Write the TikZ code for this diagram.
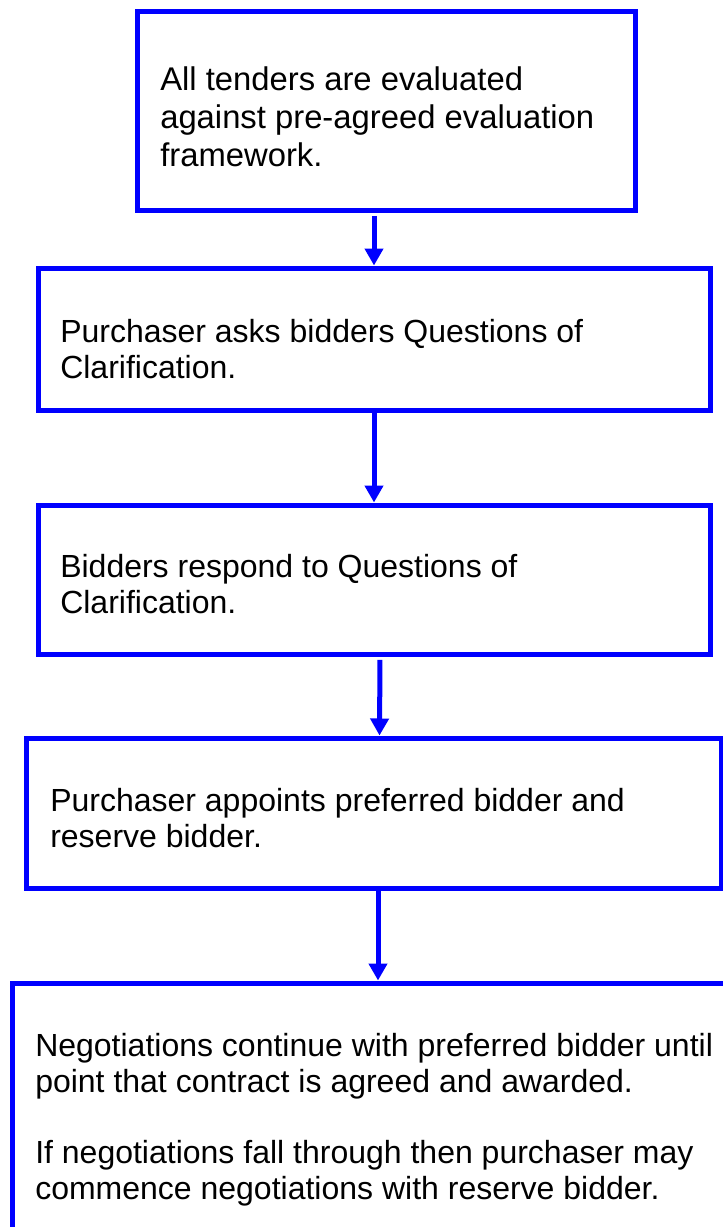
\documentclass[tikz,border=0pt]{standalone}
\usepackage{fontspec}
\setmainfont{Liberation Sans}
\usetikzlibrary{arrows.meta}
\definecolor{flowblue}{RGB}{0,0,255}
\tikzset{
  stage/.style={draw=flowblue, line width=3.75pt, inner sep=0pt},
  stagetext/.style={anchor=north west, inner sep=0pt, align=left,
                    font=\fontsize{24}{27}\selectfont},
  flow/.style={draw=flowblue, line width=3.75pt,
               -{Triangle[width=13.5pt,length=12.75pt]}}
}
\begin{document}
\begin{tikzpicture}[x=0.75pt,y=-0.75pt]
  \clip (0,0) rectangle (723,1227);
  % stage boxes
  \node[stage, minimum width=373.5pt, minimum height=148.5pt] (b1) at (386,111) {};
  \node[stage, minimum width=504pt, minimum height=106.5pt] (b2) at (374,339) {};
  \node[stage, minimum width=504pt, minimum height=111.75pt] (b3) at (374,579.5) {};
  \node[stage, minimum width=521.25pt, minimum height=112.5pt] (b4) at (373.5,813) {};
  \node[stage, minimum width=549pt, minimum height=196.5pt] (b5) at (378,1114) {};
  % texts
  \node[stagetext, font=\fontsize{24.6}{28.7}\selectfont] (t1) at (160,66)
    {All tenders are evaluated\\ against pre-agreed evaluation\\ framework.};
  \node[stagetext] (t2) at (60,319) {Purchaser asks bidders Questions of\\
    Clarification.};
  \node[stagetext] (t3) at (60,554) {Bidders respond to Questions of\\
    Clarification.};
  \node[stagetext] (t4) at (50,788) {Purchaser appoints preferred bidder and\\
    reserve bidder.};
  \node[stagetext] (t5) at (35,1033) {Negotiations continue with preferred bidder until\\
    point that contract is agreed and awarded.\\[26pt]
    If negotiations fall through then purchaser may\\
    commence negotiations with reserve bidder.};
  % arrows
  \draw[flow, shorten <=2.6pt] (b1.south -| b2.north) -- (b2.north);
  \draw[flow] (b2.south) -- (b3.north);
  \draw[flow, shorten <=2.6pt] ([xshift=4.5pt]b3.south) -- ([xshift=4.5pt]b4.north);
  \draw[flow] (b5.north |- b4.south) -- (b5.north);
\end{tikzpicture}
\end{document}
